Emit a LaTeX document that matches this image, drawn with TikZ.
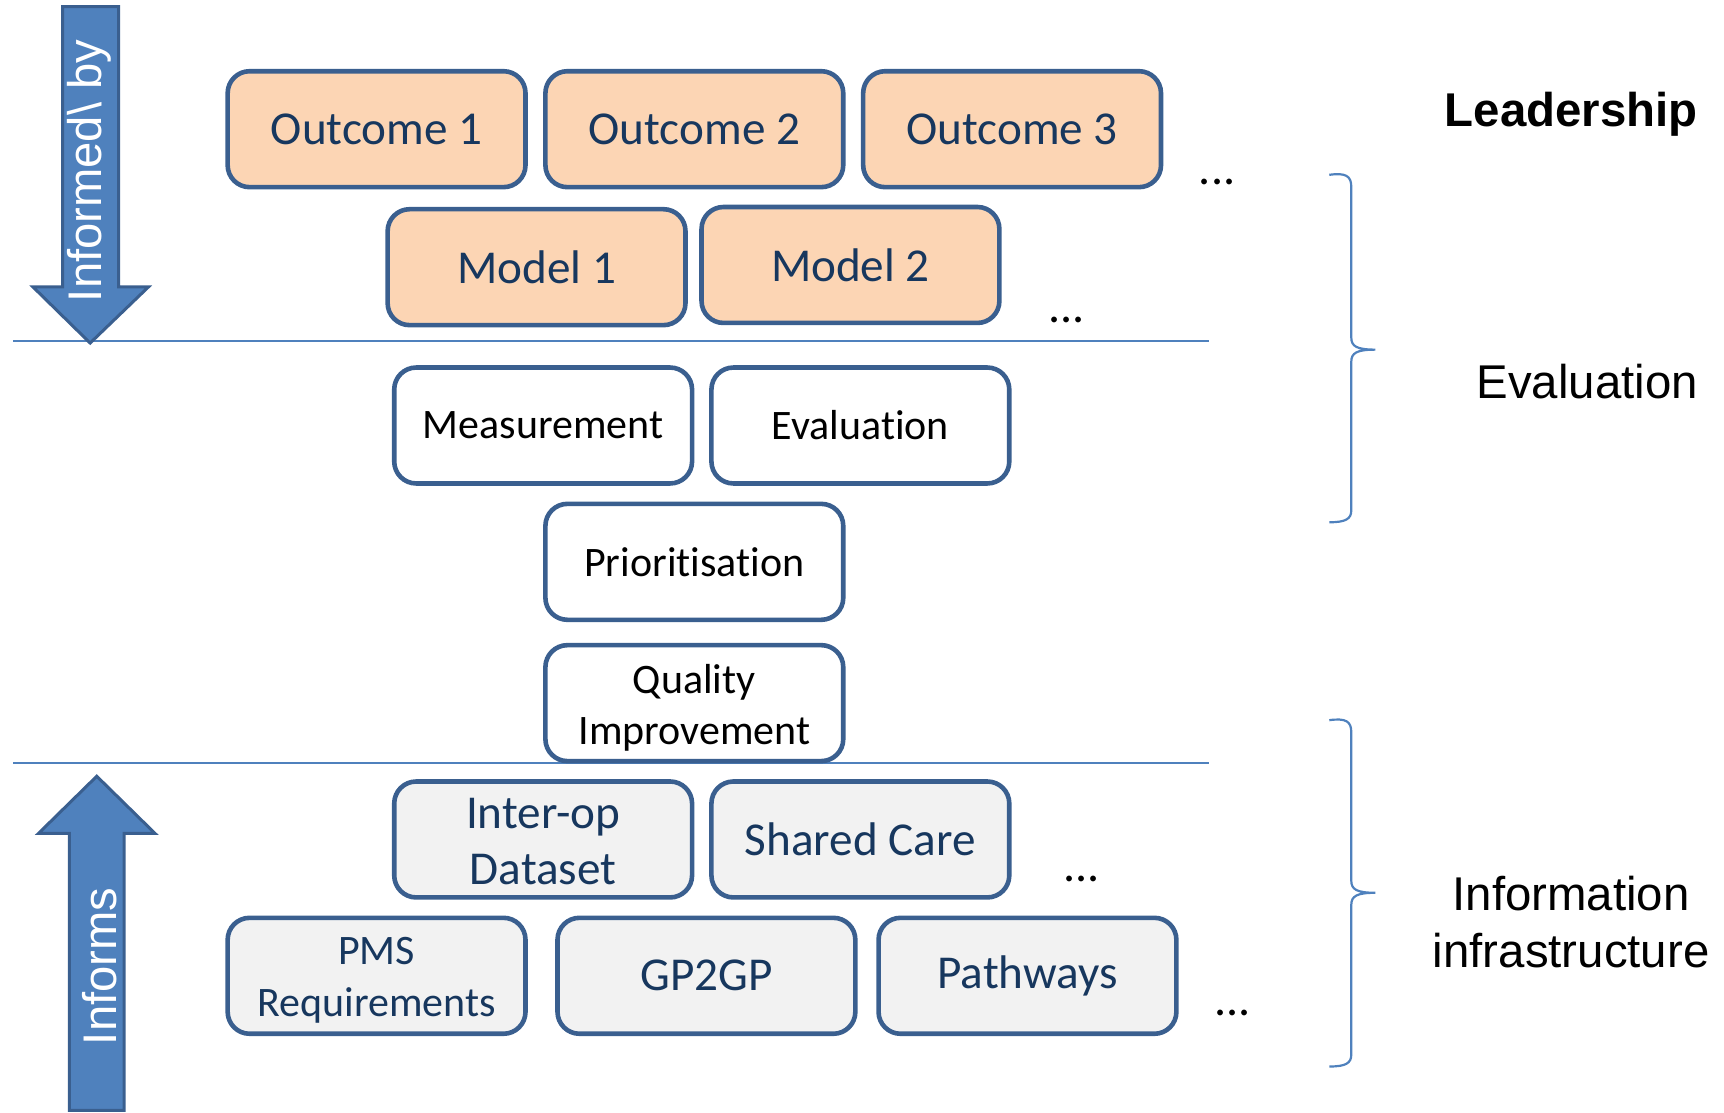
\documentclass[tikz,border=0pt]{standalone}
\usepackage{fontspec}
\setmainfont{Carlito}[Ligatures={NoCommon,NoContextual}]
\newfontfamily\arialf{Liberation Sans}
\definecolor{arrowfill}{HTML}{4F81BD}
\definecolor{arrowdraw}{HTML}{3A5F8F}
\definecolor{boxdraw}{HTML}{3A5F8F}
\definecolor{peach}{HTML}{FCD5B4}
\definecolor{grayfill}{HTML}{F2F2F2}
\definecolor{navy}{HTML}{17375E}
\definecolor{rulecol}{HTML}{4F81BD}
\newcommand{\twolines}[3]{\raisebox{#1}[\height][\depth]{\begin{tabular}{@{}c@{}}#2\\#3\end{tabular}}}
\begin{document}
\begin{tikzpicture}[x=0.55pt,y=-0.55pt,
  box/.style={draw=boxdraw, line width=2.3pt, rounded corners=11pt,
    minimum width=149pt, minimum height=58pt, inner sep=0pt, align=center},
  peachbox/.style={box, fill=peach, text=navy, font=\fontsize{23.6}{26.4}\selectfont},
  whitebox/.style={box, fill=white, text=black, font=\fontsize{21}{25.4}\selectfont},
  graybox/.style={box, fill=grayfill, text=navy, font=\fontsize{23.6}{28}\selectfont},
  graysmall/.style={box, fill=grayfill, text=navy, font=\fontsize{21}{25.9}\selectfont},
  dots/.style={anchor=base, inner sep=0pt, font=\fontsize{24}{28}\selectfont},
  bigarrow/.style={fill=arrowfill, draw=arrowdraw, line width=1.5pt, line join=miter},
  arrowtext/.style={rotate=90, anchor=base, inner sep=0pt, text=white, font=\arialf\fontsize{23.6}{28}\selectfont},
  sepline/.style={draw=rulecol, line width=0.8pt},
  brace/.style={draw=rulecol, line width=1.1pt},
  sidelabel/.style={anchor=base, inner sep=0pt, font=\arialf\fontsize{23.7}{29}\selectfont}
]
\path[use as bounding box] (0,0) rectangle (1568,1012);

% separator lines
\coordinate (l1a) at (12,310); \coordinate (l1b) at (1100,310);
\coordinate (l2a) at (12,694); \coordinate (l2b) at (1100,694);
\draw[sepline] (l1a) -- (l1b);
\draw[sepline] (l2a) -- (l2b);

% big arrows
\draw[bigarrow] (57,6) -- (108,6) -- (108,261) -- (135,261) -- (82,312) -- (30,261) -- (57,261) -- cycle;
\node[arrowtext] (informedby) at (92,155.5) {Informed\textbackslash\ by};
\draw[bigarrow] (63,1010) -- (63,758) -- (35,758) -- (88,706) -- (141,758) -- (113,758) -- (113,1010) -- cycle;
\node[arrowtext] (informs) at (106,879) {Informs};

% top layer
\node[peachbox] (o1) at (342.5,117.5) {Outcome 1};
\node[peachbox] (o2) at (631.5,117.5) {Outcome 2};
\node[peachbox] (o3) at (920.5,117.5) {Outcome 3};
\node[peachbox] (m1) at (488,243) {Model 1};
\node[peachbox] (m2) at (773.5,241) {Model 2};
\node[dots] (d1) at (1107,168) {...};
\node[dots] (d2) at (970,293) {...};

% middle layer
\node[whitebox] (meas) at (494,387) {Measurement};
\node[whitebox] (eval) at (782.5,387) {Evaluation};
\node[whitebox] (prio) at (631.5,511) {Prioritisation};
\node[whitebox] (qi) at (631.5,639.5) {\twolines{-3pt}{Quality}{Improvement}};

% bottom layer
\node[graybox] (interop) at (494,763.5) {\twolines{-3pt}{Inter-op}{Dataset}};
\node[graybox] (shared) at (782.5,763.5) {Shared Care};
\node[graysmall] (pms) at (342.5,887.5) {\twolines{-2.2pt}{PMS}{Requirements}};
\node[graybox] (gp) at (642.5,887.5) {GP2GP};
\node[graybox] (path) at (934.5,887.5) {Pathways};
\node[dots] (d3) at (984,802) {...};
\node[dots] (d4) at (1121,924) {...};

% braces
\draw[brace] (1209,159) .. controls (1224,157) and (1229,160) .. (1229,170) -- (1229,307)
  .. controls (1229,315) and (1234,318) .. (1251,318)
  .. controls (1234,318) and (1229,321) .. (1229,329) -- (1229,464)
  .. controls (1229,472) and (1224,475) .. (1209,475);
\draw[brace] (1209,655) .. controls (1224,653) and (1229,656) .. (1229,666) -- (1229,801)
  .. controls (1229,809) and (1234,812) .. (1251,812)
  .. controls (1234,812) and (1229,815) .. (1229,823) -- (1229,959)
  .. controls (1229,967) and (1224,970) .. (1209,970);

% side labels
\node[sidelabel, font=\arialf\bfseries\fontsize{23.7}{29}\selectfont] (lead) at (1429,115) {Leadership};
\node[sidelabel] (evallab) at (1443.5,362) {Evaluation};
\node[sidelabel] (info1) at (1429,828.5) {Information};
\node[sidelabel] (info2) at (1429,880) {infrastructure};
\end{tikzpicture}
\end{document}
